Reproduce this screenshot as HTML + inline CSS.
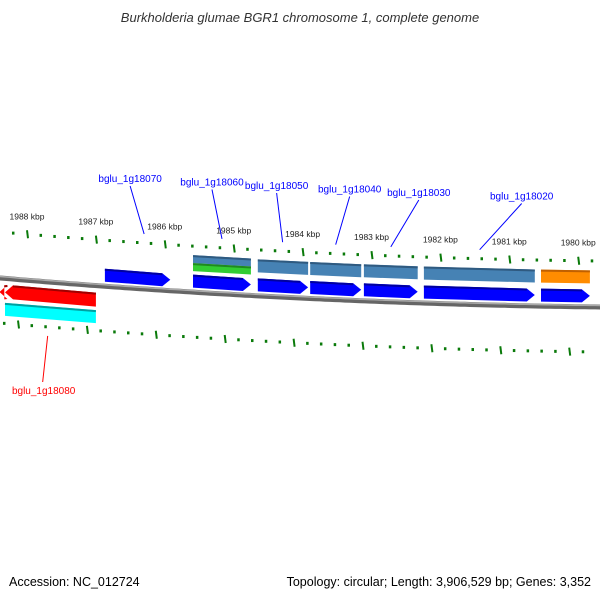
<!DOCTYPE html>
<html><head><meta charset="utf-8"><style>
body{margin:0;background:#fff}
svg{display:block;font-family:"Liberation Sans","DejaVu Sans",sans-serif}
</style></head><body>
<svg id="map" width="600" height="600" viewBox="0 0 600 600">
<text x="300" y="22" text-anchor="middle" font-size="13" font-style="italic" fill="#333">Burkholderia glumae BGR1 chromosome 1, complete genome</text>
<text x="9" y="586" font-size="12.5" fill="#000">Accession: NC_012724</text>
<text x="591" y="586" text-anchor="end" font-size="12.5" fill="#000">Topology: circular; Length: 3,906,529 bp; Genes: 3,352</text>
</svg>
<script>
const tickKbp=[1988,1987,1986,1985,1984,1983,1982,1981,1980];
const geneStarts=[1986.87,1985.59,1984.65,1983.89,1983.11,1982.24,1980.54];
const geneEnds=[1985.92,1984.75,1983.92,1983.15,1982.33,1980.63,1979.83];
const featStarts=[1985.59,1984.65,1983.89,1983.11,1982.24,1980.54];
const featEnds=[1984.75,1983.92,1983.15,1982.33,1980.63,1979.83];
const featKinds=["split","gene","gene","gene","gene","orange"];
const revStarts=[1988.32,1988.4];
const revEnds=[1987.0,1988.33];
const labelNames=["bglu_1g18070","bglu_1g18060","bglu_1g18050","bglu_1g18040","bglu_1g18030","bglu_1g18020"];
const labelKbp=[1986.3,1985.17,1984.29,1983.52,1982.72,1981.43];
const revLabelNames=["bglu_1g18080"];
const revLabelKbp=[1987.7];

const svg=document.getElementById('map');
const NS='http://www.w3.org/2000/svg';
function X(k){return 27+(1988-k)*68.9;}
function Y(x){return 278+0.085*x-0.0000611*x*x;}
function mk(tag,attrs){const e=document.createElementNS(NS,tag);for(const a in attrs)e.setAttribute(a,attrs[a]);svg.appendChild(e);return e;}

// backbone
let d='';for(let x=-5;x<=605;x+=5){d+=(x===-5?'M':'L')+x+','+Y(x).toFixed(1);}
let bb=mk('path',{d:d,stroke:'#666',"stroke-width":5,fill:'none'});


let bb2=mk('path',{d:d,stroke:'#aaa',"stroke-width":1.5,fill:'none',transform:'translate(0,-1.5)'});



// ticks
for(let k=1988.6;k>=1979.6;k-=0.2){
  const kr=Math.round(k*10)/10;const x=X(kr);if(x<0||x>600)continue;
  const major=Math.abs(kr-Math.round(kr))<0.01;
  const yt=Y(x)-46, xb=x-9, yb=Y(xb)+45;
  const h=major?8:3;
  let t=mk('line',{x1:x,y1:yt-h/2,x2:x+(major?1:0),y2:yt+h/2,stroke:'#0a7a0a',"stroke-width":major?2:2.5});
  
  
  let b=mk('line',{x1:xb,y1:yb-h/2,x2:xb+(major?1:0),y2:yb+h/2,stroke:'#0a7a0a',"stroke-width":major?2:2.5});
  
  
}
tickKbp.forEach(k=>{const x=X(k);
  let t=mk('text',{x:x,y:Y(x)-61,"text-anchor":"middle","font-size":"8.5",fill:'#222'});t.textContent=k+' kbp';
  
  });

function shape(k1,k2,off,h,fill,dark,dir,name){
  const x1=X(k1),x2=X(k2);const head=dir?8:0;
  const y=(x)=>Y(x)+off;
  let pts;
  if(dir===1){pts=[[x1,y(x1)-h/2],[x2-head,y(x2)-h/2],[x2,y(x2)],[x2-head,y(x2)+h/2],[x1,y(x1)+h/2]];}
  else if(dir===-1){pts=[[x1+head,y(x1)-h/2],[x2,y(x2)-h/2],[x2,y(x2)+h/2],[x1+head,y(x1)+h/2],[x1,y(x1)]];}
  else pts=[[x1,y(x1)-h/2],[x2,y(x2)-h/2],[x2,y(x2)+h/2],[x1,y(x1)+h/2]];
  const p=mk('polygon',{points:pts.map(q=>q[0].toFixed(1)+','+q[1].toFixed(1)).join(' '),fill:fill});
  
  
  const s=mk('line',{x1:x1+(dir===-1?head:0),y1:y(x1)-h/2+1,x2:x2-(dir===1?head:0),y2:y(x2)-h/2+1,stroke:dark,"stroke-width":2});
  
  
}
geneStarts.forEach((s,i)=>shape(s,geneEnds[i],-11,13,'#0000ff','#0000a0',1,'cds-forward'));
featStarts.forEach((s,i)=>{const k=featKinds[i];
  if(k==='split'){shape(s,featEnds[i],-33,8,'#4682b4','#2f5a80',0,'gene-feature');shape(s,featEnds[i],-25,8,'#32cd32','#1f8a1f',0,'gene-feature-green');}
  else if(k==='orange')shape(s,featEnds[i],-30,13,'#ff8c00','#c06000',0,'gene-feature-orange');
  else shape(s,featEnds[i],-30,13,'#4682b4','#2f5a80',0,'gene-feature');});
revStarts.forEach((s,i)=>shape(s,revEnds[i],14,14,'#ff0000','#a00000',-1,'cds-reverse'));
shape(revStarts[0],revEnds[0],31,13,'#00ffff','#00a0a0',0,'gene-reverse-cyan');

labelNames.forEach((n,i)=>{const x=X(labelKbp[i]);const tx=x-(i<3?(14-i*4):-(i-2)*14);const ty=178+i*3.5+(i>3?0:0);
  let l=mk('line',{x1:tx,y1:ty+8,x2:x,y2:Y(x)-55,stroke:'#0000ff',"stroke-width":1});
  
  
  let t=mk('text',{x:tx,y:ty+4,"text-anchor":"middle","font-size":"10",fill:'#0000ff'});t.textContent=n;
  
  });
revLabelNames.forEach((n,i)=>{const x=X(revLabelKbp[i]);
  let l=mk('line',{x1:x,y1:Y(x)+54,x2:x-5,y2:382,stroke:'#ff0000',"stroke-width":1});
  
  
  let t=mk('text',{x:x-4,y:394,"text-anchor":"middle","font-size":"10",fill:'#ff0000'});t.textContent=n;
  
  });
</script>
</body></html>
